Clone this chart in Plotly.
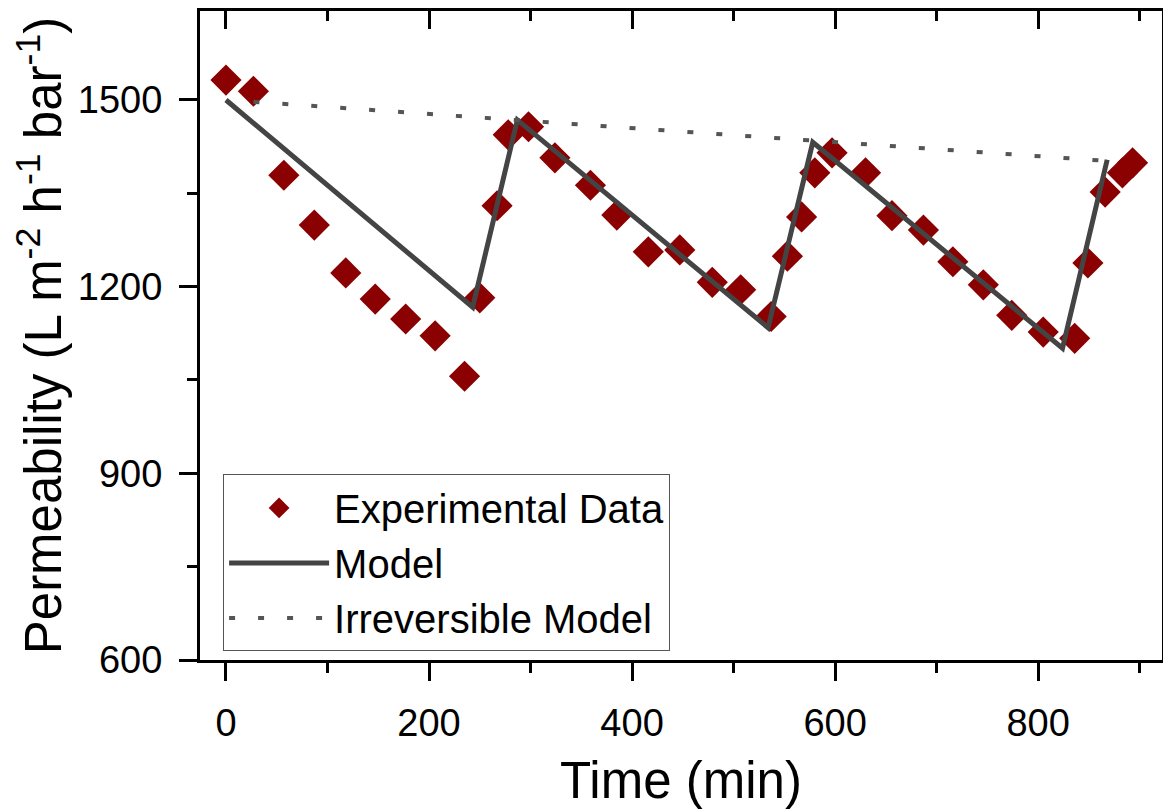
import plotly.graph_objects as go

# Experimental data
exp_time = [0, 27, 57, 87, 118, 147, 177, 206, 235, 250, 267, 278, 298, 324,
            359, 385, 416, 447, 479, 507, 537, 553, 567, 580, 597, 630, 656,
            687, 716, 746, 774, 805, 836, 849, 866, 883, 893]
exp_perm = [1532, 1514, 1379, 1299, 1222, 1180, 1148, 1121, 1056, 1182, 1330,
            1444, 1457, 1407, 1363, 1315, 1256, 1259, 1207, 1195, 1152, 1249,
            1312, 1383, 1415, 1383, 1314, 1291, 1240, 1203, 1154, 1127, 1117,
            1238, 1352, 1383, 1399]

# Model
model_time = [0, 243, 287, 534, 578, 824, 868]
model_perm = [1500, 1167, 1468, 1134, 1432, 1101, 1404]

# Irreversible model
irr_time = [27, 868]
irr_perm = [1497, 1402]

FONT = "Liberation Sans, Arial, sans-serif"

fig = go.Figure()
fig.add_trace(go.Scatter(
    x=exp_time, y=exp_perm, mode="markers", name="Experimental Data",
    marker=dict(symbol="diamond", size=24, color="#8b0000", line=dict(width=0))))
fig.add_trace(go.Scatter(
    x=model_time, y=model_perm, mode="lines", name="Model",
    line=dict(color="#444444", width=5)))
fig.add_trace(go.Scatter(
    x=irr_time, y=irr_perm, mode="lines", name="Irreversible Model",
    line=dict(color="#555555", width=4, dash="6px,23px")))
# helper trace for mirrored top/right axes
fig.add_trace(go.Scatter(x=[None], y=[None], xaxis="x2", yaxis="y2",
                         showlegend=False, hoverinfo="skip"))

YMAX = 1643
# page body has an 8px default margin: compensate in the figure margins
fig.update_layout(
    width=1171, height=812,
    margin=dict(l=192, r=17, t=3, b=160),
    paper_bgcolor="white", plot_bgcolor="white",
    font=dict(family=FONT, color="black"),
    showlegend=True,
    legend=dict(x=0.024, y=0.286, xanchor="left", yanchor="top",
                bordercolor="#555555", borderwidth=1, bgcolor="white",
                font=dict(size=40, family=FONT), itemwidth=100,
                tracegroupgap=0),
    xaxis=dict(range=[-25.6, 922], tickmode="linear", tick0=0, dtick=200,
               ticks="outside", ticklen=18, tickwidth=3, tickcolor="black",
               minor=dict(dtick=100, ticks="outside", ticklen=10, tickwidth=3,
                          tickcolor="black"),
               showline=True, linewidth=3, linecolor="black",
               showgrid=False, zeroline=False, automargin=False,
               tickfont=dict(size=38, family=FONT), ticklabelstandoff=9,
               title=dict(text="Time (min)", font=dict(size=51, family=FONT),
                          standoff=20)),
    yaxis=dict(range=[600, YMAX], tickmode="linear", tick0=600, dtick=300,
               ticks="outside", ticklen=18, tickwidth=3, tickcolor="black",
               minor=dict(dtick=150, ticks="outside", ticklen=10, tickwidth=3,
                          tickcolor="black"),
               showline=True, linewidth=3, linecolor="black",
               showgrid=False, zeroline=False, automargin=False,
               tickfont=dict(size=38, family=FONT), ticklabelstandoff=9,
               title=dict(text="Permeability (L m<sup>-2</sup> h<sup>-1</sup> bar<sup>-1</sup>)",
                          font=dict(size=51, family=FONT), standoff=36)),
    xaxis2=dict(overlaying="x", side="top", anchor="y", range=[-25.6, 922],
                tickmode="linear", tick0=0, dtick=200,
                ticks="inside", ticklen=18, tickwidth=3, tickcolor="black",
                minor=dict(dtick=100, ticks="inside", ticklen=10, tickwidth=3,
                           tickcolor="black"),
                showticklabels=False, showline=True, linewidth=3,
                linecolor="black", showgrid=False, zeroline=False,
                automargin=False),
    yaxis2=dict(overlaying="y", side="right", anchor="x",
                range=[0, 13.04 * (YMAX - 600) / 1048],
                tickmode="linear", tick0=0, dtick=1,
                ticks="outside", ticklen=14, tickwidth=3, tickcolor="black",
                showticklabels=False, showline=True, linewidth=3,
                linecolor="black", showgrid=False, zeroline=False,
                automargin=False),
)

fig.write_html("out.html")
